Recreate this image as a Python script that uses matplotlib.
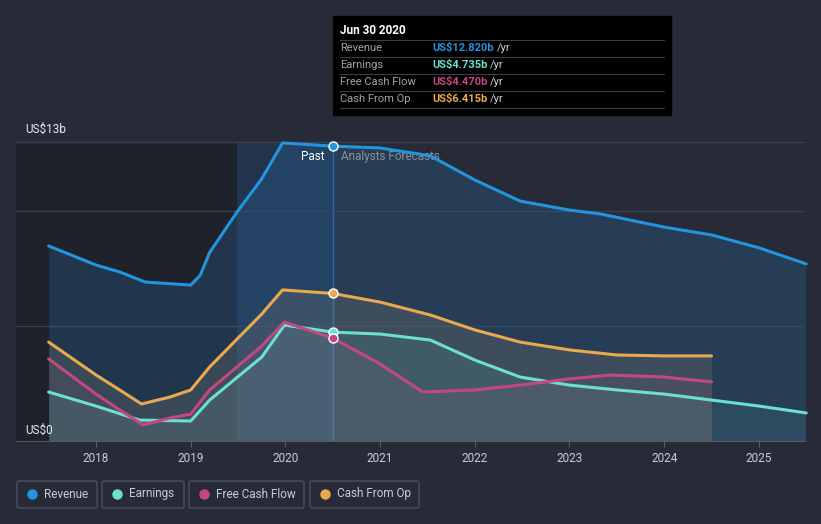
import matplotlib.pyplot as plt
from matplotlib.patches import Rectangle, FancyBboxPatch
from matplotlib.lines import Line2D
import numpy as np

plt.rcParams['font.family'] = ['Roboto', 'DejaVu Sans']

# values in US$ billions, x in decimal years
rev_x = [2017.5, 2018.0, 2018.25, 2018.52, 2019.0, 2019.1, 2019.2, 2019.49, 2019.75, 2019.97,
         2020.5, 2021.0, 2021.53, 2022.0, 2022.48, 2023.0, 2023.33, 2024.0, 2024.5, 2025.0, 2025.5]
rev_y = [8.48, 7.65, 7.35, 6.91, 6.78, 7.2, 8.2, 9.96, 11.4, 12.96,
         12.82, 12.74, 12.4, 11.35, 10.43, 10.04, 9.87, 9.30, 8.96, 8.4, 7.7]

cfo_x = [2017.5, 2018.0, 2018.25, 2018.48, 2018.78, 2019.0, 2019.2, 2019.75, 2019.97,
         2020.5, 2021.0, 2021.53, 2022.0, 2022.48, 2023.0, 2023.5, 2024.0, 2024.5]
cfo_y = [4.30, 2.87, 2.22, 1.61, 1.91, 2.22, 3.22, 5.52, 6.57,
         6.415, 6.04, 5.48, 4.83, 4.30, 3.96, 3.74, 3.70, 3.70]

earn_x = [2017.5, 2018.0, 2018.46, 2019.0, 2019.2, 2019.75, 2019.99,
          2020.5, 2021.0, 2021.53, 2022.0, 2022.48, 2023.0, 2023.5, 2024.0, 2024.5, 2025.0, 2025.5]
earn_y = [2.13, 1.52, 0.91, 0.87, 1.78, 3.65, 5.04,
          4.735, 4.65, 4.39, 3.52, 2.78, 2.43, 2.22, 2.04, 1.78, 1.52, 1.22]

fcf_x = [2017.5, 2018.0, 2018.25, 2018.5, 2018.78, 2019.0, 2019.2, 2019.75, 2019.99,
         2020.5, 2021.0, 2021.45, 2022.0, 2022.48, 2023.0, 2023.43, 2024.0, 2024.5]
fcf_y = [3.57, 2.04, 1.35, 0.70, 1.0, 1.17, 2.22, 4.13, 5.17,
         4.47, 3.35, 2.13, 2.22, 2.43, 2.70, 2.87, 2.78, 2.57]

series_names = ['Revenue', 'Earnings', 'Free Cash Flow', 'Cash From Op']
series_colors = ['#2394df', '#6ce0cf', '#c4487f', '#e8a94f']
tip_values = ['US$12.820b', 'US$4.735b', 'US$4.470b', 'US$6.415b']
year_ticks = [2018, 2019, 2020, 2021, 2022, 2023, 2024, 2025]

bg = '#262b37'
fig = plt.figure(figsize=(8.21, 5.24), dpi=100, facecolor=bg)
ax = fig.add_axes([16/821, 83/524, 789/821, 322/524])
ax.set_facecolor(bg)
ax.set_xlim(2017.155, 2025.487)
ax.set_ylim(0, 14)

# past region shading (up to the top gridline)
ax.fill_between([2017.155, 2019.49], 13, 0, color='#1e222b', lw=0, zorder=0)
ax.fill_between([2019.49, 2020.5], 13, 0, color='#1d3a60', alpha=0.55, lw=0, zorder=0)
ax.plot([2020.5, 2020.5], [0, 13], color='#2a6cb5', lw=1, zorder=1)

for v in [5, 10, 13]:
    ax.axhline(v, color='#3a404c', lw=1, zorder=1)

# fills
ax.fill_between(rev_x, rev_y, 0, color='#2b6aa3', alpha=0.28, lw=0, zorder=2)
ax.fill_between(cfo_x, cfo_y, 0, color='#8d8a7a', alpha=0.22, lw=0, zorder=2)
ax.fill_between(earn_x, earn_y, 0, color='#5fbfb2', alpha=0.12, lw=0, zorder=2)
ax.fill_between(fcf_x, fcf_y, 0, color='#b06a8a', alpha=0.10, lw=0, zorder=2)

lines = [(rev_x, rev_y), (earn_x, earn_y), (fcf_x, fcf_y), (cfo_x, cfo_y)]
for (xs, ys), c in zip(lines, series_colors):
    ax.plot(xs, ys, color=c, lw=2.2, zorder=4, solid_capstyle='round',
            solid_joinstyle='round', clip_on=False)
    i = xs.index(2020.5)
    ax.plot(xs[i], ys[i], 'o', ms=6.5, color=c, mec='white', mew=1, zorder=5, clip_on=False)

for sp in ['top', 'right', 'left']:
    ax.spines[sp].set_visible(False)
ax.spines['bottom'].set_color('#555b66')
ax.set_yticks([])
ax.set_xticks(year_ticks)
ax.set_xticklabels([str(y) for y in year_ticks], color='#c8ccd4', fontsize=8.5)
ax.tick_params(axis='x', colors='#555b66', length=4, labelcolor='#c8ccd4', pad=4)

ax.text(2017.25, 13.25, 'US$13b', color='#e6e8ec', fontsize=8.5, va='bottom')
ax.text(2017.25, 0.2, 'US$0', color='#e6e8ec', fontsize=8.5, va='bottom')
ax.text(2020.41, 12.1, 'Past', color='#ffffff', fontsize=8.5, ha='right', va='bottom')
ax.text(2020.59, 12.1, 'Analysts Forecasts', color='#8a8f99', fontsize=8.5, ha='left', va='bottom')

# tooltip box
W, H = 821, 524
fig.patches.append(Rectangle((333/W, 1 - 115/H), 338/W, 99/H, transform=fig.transFigure,
                             color='black', zorder=10))
fig.text(340/W, 1 - 31/H, 'Jun 30 2020', color='white', fontsize=8.5, fontweight='bold',
         va='center', zorder=11)
renderer = fig.canvas.get_renderer()
for k, (name, val, c) in enumerate(zip(series_names, tip_values, series_colors)):
    yy = 1 - (48 + 17 * k) / H
    fig.add_artist(Line2D([340/W, 664/W], [yy + 8.5/H, yy + 8.5/H], color='#3a3d44', lw=0.8,
                          transform=fig.transFigure, zorder=11))
    fig.text(340/W, yy, name, color='#a0a4ab', fontsize=8, va='center', zorder=11)
    t = fig.text(432/W, yy, val, color=c, fontsize=8, fontweight='bold', va='center', zorder=11)
    x1 = t.get_window_extent(renderer).x1
    fig.text((x1 + 3) / W, yy, '/yr', color='#d0d3d8', fontsize=8, va='center', zorder=11)
fig.add_artist(Line2D([340/W, 664/W], [1 - 107.5/H, 1 - 107.5/H], color='#3a3d44', lw=0.8,
                      transform=fig.transFigure, zorder=11))

# legend boxes
boxes = [(17, 80), (102, 82), (189, 115), (310, 109)]
for (bx, bw), name, c in zip(boxes, series_names, series_colors):
    fig.patches.append(FancyBboxPatch((bx/W, 1 - 508/H), bw/W, 27/H, transform=fig.transFigure,
                                      boxstyle='round,pad=0,rounding_size=0.003',
                                      fc='none', ec='#4a505c', lw=1))
    fig.add_artist(Line2D([(bx + 15)/W], [1 - 494/H], marker='o', ms=6.5, color=c, lw=0,
                          transform=fig.transFigure))
    fig.text((bx + 27)/W, 1 - 494/H, name, color='#c8ccd4', fontsize=8.5, va='center')

fig.savefig('out.png', dpi=100, facecolor=bg)
